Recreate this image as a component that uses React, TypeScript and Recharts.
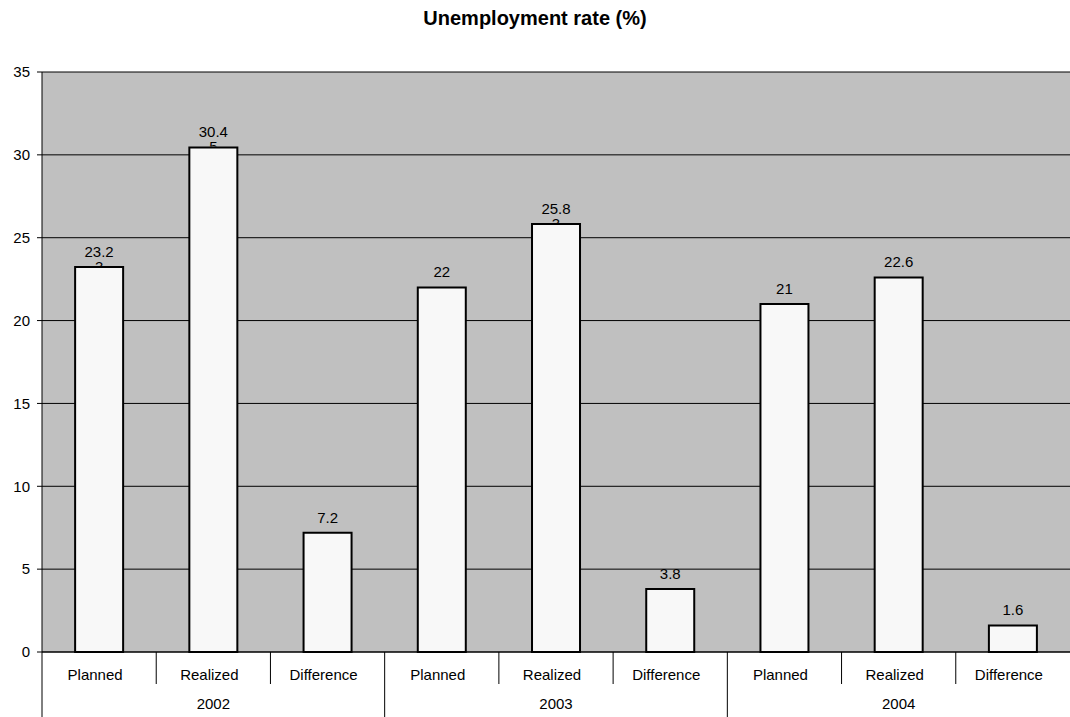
import {Bar, BarChart, CartesianGrid, LabelList, XAxis, YAxis} from "recharts";

const categories = ["Planned", "Realized", "Difference", "Planned", "Realized", "Difference", "Planned", "Realized", "Difference"];
const years = ["2002", "2002", "2002", "2003", "2003", "2003", "2004", "2004", "2004"];
const rates = [23.23, 30.45, 7.2, 22, 25.83, 3.8, 21, 22.6, 1.6];
const yTicks = [0, 5, 10, 15, 20, 25, 30, 35];

const W = 1070;
const H = 717;
const LEFT = 42;
const TOP = 72;
const AXIS_H = 65;
const FONT = "'Liberation Sans', Arial, sans-serif";

const data = categories.map((name, i) => ({
    key: `${years[i]}-${name}`,
    name,
    year: years[i],
    rate: rates[i],
}));

const band = (W - LEFT) / categories.length;

const CategoryTick = (props: any) => {
    const {x, y, payload, index} = props;
    const i = index ?? payload.index;
    const cat = categories[i];
    const year = years[i];
    const left = x - band / 2;
    const groupStart = i % 3 === 0;
    return (
        <g>
            <line x1={left} y1={y} x2={left} y2={groupStart ? y + AXIS_H : y + 32} stroke="#000" strokeWidth={1}/>
            <text x={x - 4} y={y + 28} textAnchor="middle" fontSize={15} fontFamily={FONT} fill="#000">{cat}</text>
            {i % 3 === 1 && (
                <text x={x} y={y + 57} textAnchor="middle" fontSize={15} fontFamily={FONT} fill="#000">{year}</text>
            )}
        </g>
    );
};

const ValueLabel = (props: any) => {
    const {x, y, width, value, index} = props;
    const s = String(value);
    const first = s.length > 4 ? s.slice(0, 4) : s;
    const rest = s.length > 4 ? s.slice(4) : "";
    const cx = x + width / 2;
    const id = `clip-lbl-${index}`;
    return (
        <g>
            <text x={cx} y={y - 10} textAnchor="middle" fontSize={15} fontFamily={FONT} fill="#000">{first}</text>
            {rest && (
                <>
                    <defs>
                        <clipPath id={id}>
                            <rect x={cx - 20} y={y - 20} width={40} height={19}/>
                        </clipPath>
                    </defs>
                    <text x={cx} y={y + 5} textAnchor="middle" fontSize={15} fontFamily={FONT} fill="#000" clipPath={`url(#${id})`}>{rest}</text>
                </>
            )}
        </g>
    );
};

const App = () => {
    return (
        <div style={{position: "absolute", left: 0, top: 0, width: W, height: H, background: "#fff"}}>
            <div style={{position: "absolute", left: 0, top: 7, width: W, textAlign: "center", fontFamily: FONT, fontWeight: "bold", fontSize: 20}}>
                Unemployment rate (%)
            </div>
            <BarChart
                width={W}
                height={H}
                data={data}
                margin={{top: TOP, right: 0, left: 0, bottom: 0}}
                barCategoryGap="29%"
            >
                <CartesianGrid vertical={false} stroke="#000" strokeWidth={1} fill="#c0c0c0" fillOpacity={1}/>
                <YAxis
                    width={LEFT}
                    domain={[0, 35]}
                    ticks={yTicks}
                    interval={0}
                    tickSize={5}
                    tickMargin={7}
                    axisLine={{stroke: "#000"}}
                    tickLine={{stroke: "#000"}}
                    tick={{fontSize: 15, fontFamily: FONT, fill: "#000"}}
                />
                <XAxis
                    dataKey="key"
                    height={AXIS_H}
                    interval={0}
                    tickLine={false}
                    tickSize={0}
                    tickMargin={0}
                    axisLine={{stroke: "#000"}}
                    tick={<CategoryTick/>}
                />
                <Bar dataKey="rate" fill="#f8f8f8" stroke="#000" strokeWidth={2} isAnimationActive={false}>
                    <LabelList dataKey="rate" content={<ValueLabel/>}/>
                </Bar>
            </BarChart>
        </div>
    );
};

export default App;
